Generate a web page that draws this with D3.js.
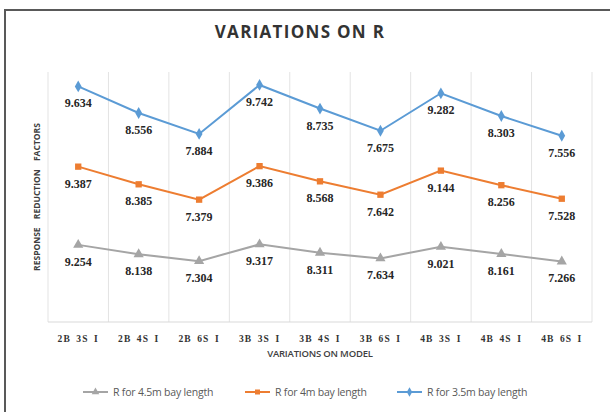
<!DOCTYPE html>
<html>
<head>
<meta charset="utf-8">
<script src="https://cdn.jsdelivr.net/npm/d3@7"></script>
<style>
  body { margin: 0; background: #fff; }
  svg { display: block; }
</style>
</head>
<body>
<svg id="chart" width="610" height="412"></svg>
<script>
const models = ["2B 3S I", "2B 4S I", "2B 6S I", "3B 3S I", "3B 4S I", "3B 6S I", "4B 3S I", "4B 4S I", "4B 6S I"];
const r45 = [9.254, 8.138, 7.304, 9.317, 8.311, 7.634, 9.021, 8.161, 7.266];
const r4 = [9.387, 8.385, 7.379, 9.386, 8.568, 7.642, 9.144, 8.256, 7.528];
const r35 = [9.634, 8.556, 7.884, 9.742, 8.735, 7.675, 9.282, 8.303, 7.556];
const seriesNames = ["R for 4.5m bay length", "R for 4m bay length", "R for 3.5m bay length"];
const colors = ["#a5a5a5", "#ed7d31", "#5b9bd5"];
const shapes = [d3.symbolTriangle, d3.symbolSquare, d3.symbolDiamond];
const yMax = 30;

const svg = d3.select("#chart");
const margin = {left: 48, right: 18, top: 72, bottom: 90};
const width = 610 - margin.left - margin.right;
const height = 412 - margin.top - margin.bottom;

// chart border (only top and left show in the crop)
svg.append("path")
    .attr("d", "M5,412 L5,10 L610,10")
    .attr("fill", "none")
    .attr("stroke", "#595959")
    .attr("stroke-width", 2);

svg.append("text")
    .attr("x", 300)
    .attr("y", 38)
    .attr("text-anchor", "middle")
    .style("font-family", "Open Sans")
    .style("font-weight", "bold")
    .style("font-size", "17px")
    .style("letter-spacing", "1.3px")
    .style("fill", "#333")
    .text("VARIATIONS ON R");

const g = svg.append("g")
    .attr("transform", `translate(${margin.left},${margin.top})`);

const x = d3.scaleBand().domain(models).range([0, width]);
const y = d3.scaleLinear().domain([0, yMax]).range([height, 0]);

// vertical grid at band edges
g.append("g")
    .selectAll("line")
    .data(models.concat(["end"]))
    .enter()
    .append("line")
    .attr("x1", (d, i) => i * x.bandwidth())
    .attr("x2", (d, i) => i * x.bandwidth())
    .attr("y1", 0)
    .attr("y2", height)
    .attr("stroke", "#e3e3e3")
    .attr("stroke-width", 1);

g.append("line")
    .attr("x1", 0).attr("x2", width)
    .attr("y1", height).attr("y2", height)
    .attr("stroke", "#d9d9d9");

// x labels
g.append("g")
    .attr("transform", `translate(0,${height})`)
    .call(d3.axisBottom(x).tickSize(0).tickPadding(13))
    .call(a => a.select(".domain").remove())
    .selectAll("text")
    .style("font-family", "Liberation Serif")
    .style("font-weight", "bold")
    .style("font-size", "9.5px")
    .style("letter-spacing", "1.1px")
    .style("word-spacing", "2px")
    .style("fill", "#333");

svg.append("text")
    .attr("x", margin.left + width / 2)
    .attr("y", 357)
    .attr("text-anchor", "middle")
    .style("font-family", "Open Sans")
    .style("font-weight", "600")
    .style("font-size", "9.5px")
    .style("letter-spacing", "-0.2px")
    .style("fill", "#404040")
    .text("VARIATIONS ON MODEL");

svg.append("text")
    .attr("transform", `translate(40,${margin.top + height / 2}) rotate(-90)`)
    .attr("text-anchor", "middle")
    .style("font-family", "Open Sans")
    .style("font-weight", "bold")
    .style("font-size", "8.5px")
    .style("word-spacing", "6px")
    .style("fill", "#404040")
    .text("RESPONSE REDUCTION FACTORS");

// stacked series
const rows = models.map((m, i) => ({model: m, a: r45[i], b: r4[i], c: r35[i]}));
const stack = d3.stack().keys(["a", "b", "c"])(rows);

stack.forEach((s, k) => {
    const pts = s.map((d, i) => ({model: models[i], top: d[1], val: d[1] - d[0]}));
    const line = d3.line()
        .x(d => x(d.model) + x.bandwidth() / 2)
        .y(d => y(d.top));
    g.append("path")
        .datum(pts)
        .attr("d", line)
        .attr("fill", "none")
        .attr("stroke", colors[k])
        .attr("stroke-width", 2);
    g.selectAll(".m" + k)
        .data(pts)
        .enter()
        .append("path")
        .attr("class", "m" + k)
        .attr("transform", d => `translate(${x(d.model) + x.bandwidth() / 2},${y(d.top)})`)
        .attr("d", d3.symbol().type(shapes[k]).size(k === 0 ? 45 : 40))
        .attr("fill", colors[k]);
    g.selectAll(".l" + k)
        .data(pts)
        .enter()
        .append("text")
        .attr("class", "l" + k)
        .attr("x", d => x(d.model) + x.bandwidth() / 2)
        .attr("y", d => y(d.top) + 21)
        .attr("text-anchor", "middle")
        .style("font-family", "Liberation Serif")
        .style("font-weight", "bold")
        .style("font-size", "12px")
        .style("fill", "#262626")
        .text(d => d.val.toFixed(3));
});

// legend
const legendX = [83, 245, 397];
seriesNames.forEach((name, k) => {
    const lg = svg.append("g").attr("transform", `translate(${legendX[k]},392)`);
    lg.append("line")
        .attr("x1", 0).attr("x2", 25)
        .attr("y1", 0).attr("y2", 0)
        .attr("stroke", colors[k])
        .attr("stroke-width", 2);
    lg.append("path")
        .attr("transform", "translate(12.5,0)")
        .attr("d", d3.symbol().type(shapes[k]).size(25))
        .attr("fill", colors[k]);
    lg.append("text")
        .attr("x", 30)
        .attr("y", 3.5)
        .style("font-family", "Open Sans")
        .style("font-size", "10.5px")
        .style("letter-spacing", "-0.2px")
        .style("fill", "#595959")
        .text(name);
});
</script>
</body>
</html>
